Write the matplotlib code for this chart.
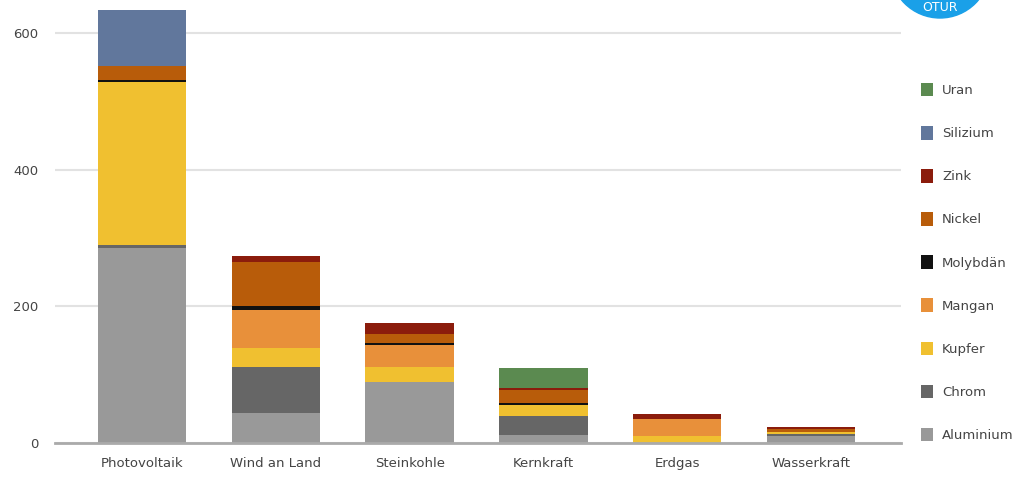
import matplotlib
matplotlib.use('Agg')
import matplotlib.pyplot as plt
from matplotlib.patches import Patch, Circle
import numpy as np

categories = ['Photovoltaik', 'Wind an Land', 'Steinkohle', 'Kernkraft', 'Erdgas', 'Wasserkraft']

# stacked from bottom to top
materials = ['Aluminium', 'Chrom', 'Kupfer', 'Mangan', 'Molybdän', 'Nickel', 'Zink', 'Silizium', 'Uran']
aluminium = [285, 44, 89, 12, 0, 11]
chrom     = [5, 67, 0, 28, 0, 2]
kupfer    = [238, 28, 22, 16, 10, 3]
mangan    = [0, 56, 32, 0, 25, 0]
molybdaen = [3, 5, 3, 2, 0, 0]
nickel    = [20, 65, 14, 20, 0, 4]
zink      = [0, 9, 15, 3, 7, 3]
silizium  = [82, 0, 0, 0, 0, 0]
uran      = [0, 0, 0, 29, 0, 0]

values = [aluminium, chrom, kupfer, mangan, molybdaen, nickel, zink, silizium, uran]
colors = ['#999999', '#666666', '#f0c030', '#e8903a', '#111111', '#b85c0a', '#8b1c0c', '#61779c', '#5b8a50']

fig = plt.figure(figsize=(10.19, 4.8), dpi=100)
ax = fig.add_axes([0.054, 0.077, 0.83, 0.923])

x = np.arange(len(categories))
bottom = np.zeros(len(categories))
for vals, col in zip(values, colors):
    ax.bar(x, vals, width=0.66, bottom=bottom, color=col, edgecolor='none', zorder=3)
    bottom += np.array(vals)

ax.set_xlim(-0.65, 5.67)
ax.set_ylim(0, 648)
ax.set_yticks([0, 200, 400, 600])
ax.set_xticks(x)
ax.set_xticklabels(categories, fontsize=9.5, color='#444444')
ax.tick_params(axis='both', length=0, colors='#444444', labelsize=9.5)
ax.tick_params(axis='y', pad=12)
ax.tick_params(axis='x', pad=10)
ax.yaxis.grid(True, color='#e2e2e2', linewidth=1.5, zorder=0)
for s in ['top', 'right', 'left']:
    ax.spines[s].set_visible(False)
ax.spines['bottom'].set_color('#aaaaaa')
ax.spines['bottom'].set_linewidth(2)
ax.spines['bottom'].set_zorder(4)

handles = [Patch(facecolor=c, label=m) for m, c in zip(materials, colors)][::-1]
fig.legend(handles=handles, loc='upper left', bbox_to_anchor=(0.892, 0.852),
           frameon=False, fontsize=9.5, labelspacing=2.19, handlelength=0.9,
           handleheight=1.2, handletextpad=0.7, labelcolor='#444444')

# logo partially visible in the corner (inch coordinates)
logo = Circle((9.40, 5.12), 0.50, transform=fig.dpi_scale_trans, color='#1aa0e8',
              clip_on=False)
fig.patches.append(logo)
fig.text(0.922, 0.985, 'OTUR', color='white', fontsize=9, ha='center', va='center')

fig.savefig('out.png', dpi=100)
